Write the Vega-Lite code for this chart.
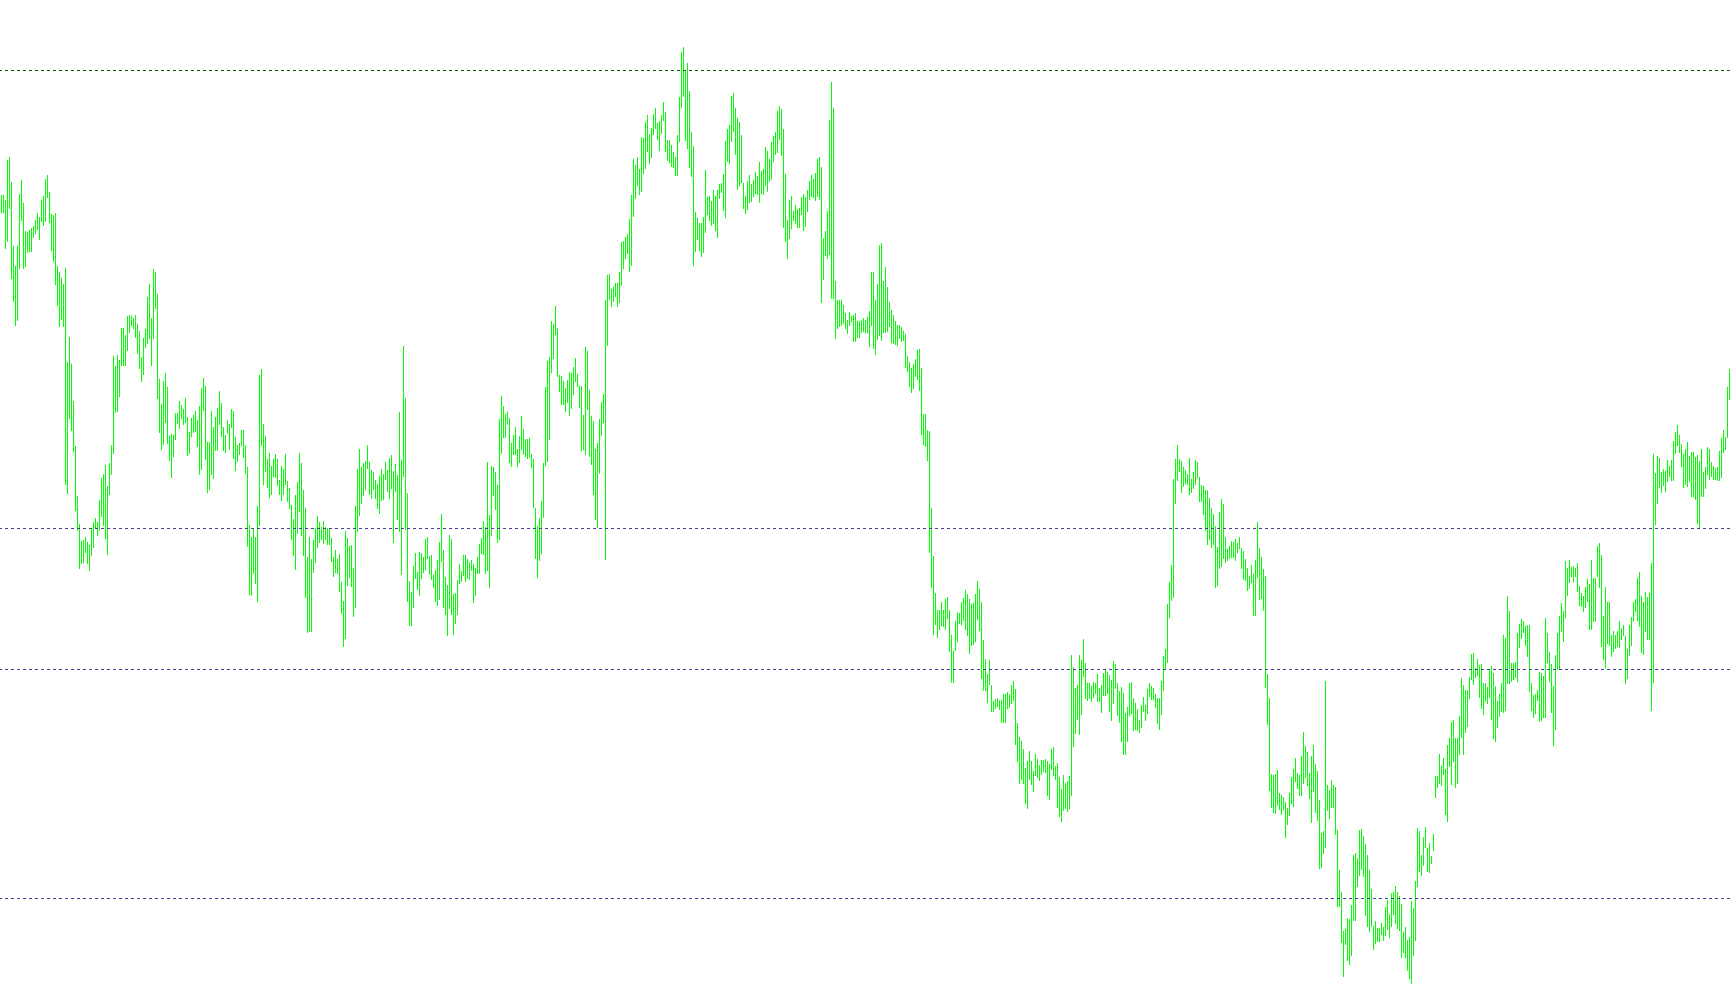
{
"$schema": "https://vega.github.io/schema/vega-lite/v6.json",
"width": 1730, "height": 1005, "padding": 0, "autosize": {"type": "none"},
"background": "white",
"config": {"view": {"stroke": null}},
"layer": [
{"data": {"values": [
{"i":0,"h":195,"l":213},{"i":1,"h":195,"l":213},{"i":2,"h":200,"l":249},{"i":3,"h":160,"l":242},{"i":4,"h":157,"l":209},{"i":5,"h":182,"l":279},{"i":6,"h":246,"l":302},{"i":7,"h":266,"l":326},{"i":8,"h":246,"l":321},{"i":9,"h":194,"l":269},
{"i":10,"h":180,"l":221},{"i":11,"h":203,"l":269},{"i":12,"h":231,"l":267},{"i":13,"h":232,"l":253},{"i":14,"h":230,"l":252},{"i":15,"h":228,"l":252},{"i":16,"h":226,"l":238},{"i":17,"h":220,"l":234},{"i":18,"h":213,"l":230},{"i":19,"h":217,"l":240},
{"i":20,"h":200,"l":222},{"i":21,"h":196,"l":226},{"i":22,"h":179,"l":222},{"i":23,"h":175,"l":198},{"i":24,"h":192,"l":223},{"i":25,"h":214,"l":251},{"i":26,"h":215,"l":262},{"i":27,"h":213,"l":285},{"i":28,"h":266,"l":306},{"i":29,"h":272,"l":327},
{"i":30,"h":278,"l":320},{"i":31,"h":284,"l":327},{"i":32,"h":268,"l":485},{"i":33,"h":362,"l":494},{"i":34,"h":337,"l":419},{"i":35,"h":364,"l":431},{"i":36,"h":401,"l":452},{"i":37,"h":446,"l":511},{"i":38,"h":496,"l":531},{"i":39,"h":524,"l":569},
{"i":40,"h":541,"l":564},{"i":41,"h":540,"l":563},{"i":42,"h":537,"l":553},{"i":43,"h":542,"l":564},{"i":44,"h":545,"l":571},{"i":45,"h":528,"l":556},{"i":46,"h":522,"l":548},{"i":47,"h":518,"l":529},{"i":48,"h":522,"l":536},{"i":49,"h":500,"l":531},
{"i":50,"h":478,"l":517},{"i":51,"h":474,"l":526},{"i":52,"h":465,"l":539},{"i":53,"h":486,"l":555},{"i":54,"h":463,"l":495},{"i":55,"h":445,"l":475},{"i":56,"h":356,"l":454},{"i":57,"h":366,"l":413},{"i":58,"h":355,"l":412},{"i":59,"h":360,"l":397},
{"i":60,"h":328,"l":366},{"i":61,"h":328,"l":366},{"i":62,"h":335,"l":366},{"i":63,"h":316,"l":351},{"i":64,"h":315,"l":333},{"i":65,"h":316,"l":326},{"i":66,"h":318,"l":329},{"i":67,"h":315,"l":338},{"i":68,"h":324,"l":354},{"i":69,"h":331,"l":369},
{"i":70,"h":357,"l":382},{"i":71,"h":338,"l":375},{"i":72,"h":329,"l":348},{"i":73,"h":297,"l":344},{"i":74,"h":284,"l":339},{"i":75,"h":318,"l":366},{"i":76,"h":269,"l":339},{"i":77,"h":272,"l":309},{"i":78,"h":294,"l":399},{"i":79,"h":379,"l":433},
{"i":80,"h":404,"l":450},{"i":81,"h":381,"l":445},{"i":82,"h":373,"l":423},{"i":83,"h":387,"l":444},{"i":84,"h":436,"l":461},{"i":85,"h":434,"l":478},{"i":86,"h":435,"l":457},{"i":87,"h":413,"l":440},{"i":88,"h":413,"l":424},{"i":89,"h":401,"l":429},
{"i":90,"h":405,"l":419},{"i":91,"h":409,"l":425},{"i":92,"h":398,"l":423},{"i":93,"h":417,"l":456},{"i":94,"h":432,"l":454},{"i":95,"h":418,"l":437},{"i":96,"h":415,"l":433},{"i":97,"h":411,"l":432},{"i":98,"h":420,"l":447},{"i":99,"h":406,"l":475},
{"i":100,"h":388,"l":470},{"i":101,"h":378,"l":411},{"i":102,"h":386,"l":460},{"i":103,"h":442,"l":493},{"i":104,"h":442,"l":490},{"i":105,"h":411,"l":475},{"i":106,"h":427,"l":479},{"i":107,"h":417,"l":451},
{"i":108,"h":408,"l":451},{"i":109,"h":391,"l":425},{"i":110,"h":403,"l":437},{"i":111,"h":427,"l":451},{"i":112,"h":435,"l":453},{"i":113,"h":420,"l":434},{"i":114,"h":424,"l":450},{"i":115,"h":409,"l":428},{"i":116,"h":411,"l":459},{"i":117,"h":437,"l":471},
{"i":118,"h":445,"l":462},{"i":119,"h":443,"l":455},{"i":120,"h":430,"l":446},{"i":121,"h":430,"l":458},{"i":122,"h":445,"l":474},{"i":123,"h":467,"l":547},{"i":124,"h":525,"l":595},{"i":125,"h":537,"l":596},{"i":126,"h":528,"l":574},{"i":127,"h":537,"l":584},
{"i":128,"h":506,"l":602},{"i":129,"h":375,"l":526},{"i":130,"h":369,"l":446},{"i":131,"h":424,"l":485},{"i":132,"h":436,"l":472},{"i":133,"h":459,"l":488},{"i":134,"h":453,"l":498},{"i":135,"h":466,"l":495},{"i":136,"h":459,"l":477},{"i":137,"h":454,"l":478},
{"i":138,"h":459,"l":486},{"i":139,"h":480,"l":495},{"i":140,"h":466,"l":501},{"i":141,"h":469,"l":495},{"i":142,"h":454,"l":485},{"i":143,"h":481,"l":502},{"i":144,"h":488,"l":509},{"i":145,"h":505,"l":540},{"i":146,"h":519,"l":556},{"i":147,"h":495,"l":570},
{"i":148,"h":482,"l":534},{"i":149,"h":453,"l":512},{"i":150,"h":463,"l":536},{"i":151,"h":490,"l":556},{"i":152,"h":508,"l":598},{"i":153,"h":557,"l":633},{"i":154,"h":537,"l":632},{"i":155,"h":559,"l":632},{"i":156,"h":540,"l":573},{"i":157,"h":528,"l":563},
{"i":158,"h":516,"l":548},{"i":159,"h":522,"l":543},{"i":160,"h":527,"l":540},{"i":161,"h":521,"l":544},{"i":162,"h":527,"l":540},{"i":163,"h":528,"l":545},{"i":164,"h":528,"l":545},{"i":165,"h":538,"l":562},{"i":166,"h":557,"l":577},{"i":167,"h":550,"l":573},
{"i":168,"h":559,"l":574},{"i":169,"h":554,"l":592},{"i":170,"h":582,"l":614},{"i":171,"h":601,"l":647},{"i":172,"h":531,"l":639},{"i":173,"h":538,"l":586},{"i":174,"h":546,"l":578},{"i":175,"h":545,"l":587},{"i":176,"h":568,"l":617},{"i":177,"h":506,"l":608},
{"i":178,"h":469,"l":532},{"i":179,"h":449,"l":516},{"i":180,"h":467,"l":504},{"i":181,"h":463,"l":496},{"i":182,"h":461,"l":490},{"i":183,"h":445,"l":469},{"i":184,"h":462,"l":495},{"i":185,"h":470,"l":499},{"i":186,"h":472,"l":490},{"i":187,"h":480,"l":499},
{"i":188,"h":484,"l":509},{"i":189,"h":476,"l":514},{"i":190,"h":469,"l":501},{"i":191,"h":474,"l":500},{"i":192,"h":462,"l":480},{"i":193,"h":470,"l":492},{"i":194,"h":458,"l":499},{"i":195,"h":455,"l":489},{"i":196,"h":471,"l":543},{"i":197,"h":464,"l":492},
{"i":198,"h":475,"l":520},{"i":199,"h":412,"l":532},{"i":200,"h":460,"l":575},{"i":201,"h":346,"l":477},{"i":202,"h":398,"l":530},{"i":203,"h":493,"l":602},{"i":204,"h":581,"l":626},{"i":205,"h":592,"l":626},{"i":206,"h":566,"l":608},{"i":207,"h":553,"l":579},
{"i":208,"h":572,"l":590},{"i":209,"h":552,"l":596},{"i":210,"h":553,"l":579},{"i":211,"h":557,"l":573},{"i":212,"h":539,"l":570},{"i":213,"h":537,"l":559},{"i":214,"h":556,"l":575},{"i":215,"h":555,"l":580},
{"i":216,"h":575,"l":588},{"i":217,"h":570,"l":602},{"i":218,"h":560,"l":606},{"i":219,"h":542,"l":600},{"i":220,"h":514,"l":562},{"i":221,"h":550,"l":608},{"i":222,"h":577,"l":615},{"i":223,"h":585,"l":636},{"i":224,"h":535,"l":609},{"i":225,"h":539,"l":615},
{"i":226,"h":594,"l":635},{"i":227,"h":593,"l":624},{"i":228,"h":580,"l":615},{"i":229,"h":564,"l":584},{"i":230,"h":571,"l":582},{"i":231,"h":555,"l":576},{"i":232,"h":555,"l":582},{"i":233,"h":559,"l":579},{"i":234,"h":562,"l":580},{"i":235,"h":560,"l":571},
{"i":236,"h":564,"l":603},{"i":237,"h":568,"l":596},{"i":238,"h":557,"l":574},{"i":239,"h":544,"l":574},{"i":240,"h":538,"l":554},{"i":241,"h":521,"l":555},{"i":242,"h":527,"l":574},{"i":243,"h":462,"l":571},{"i":244,"h":515,"l":588},{"i":245,"h":466,"l":536},
{"i":246,"h":467,"l":496},{"i":247,"h":472,"l":510},{"i":248,"h":485,"l":543},{"i":249,"h":419,"l":540},{"i":250,"h":396,"l":454},{"i":251,"h":406,"l":438},{"i":252,"h":414,"l":438},{"i":253,"h":412,"l":425},{"i":254,"h":418,"l":463},{"i":255,"h":443,"l":467},
{"i":256,"h":435,"l":455},{"i":257,"h":427,"l":455},{"i":258,"h":449,"l":467},{"i":259,"h":436,"l":463},{"i":260,"h":416,"l":450},{"i":261,"h":429,"l":455},{"i":262,"h":439,"l":457},{"i":263,"h":439,"l":459},{"i":264,"h":438,"l":458},{"i":265,"h":454,"l":468},
{"i":266,"h":459,"l":508},{"i":267,"h":508,"l":559},{"i":268,"h":526,"l":578},{"i":269,"h":518,"l":561},{"i":270,"h":501,"l":554},{"i":271,"h":463,"l":518},{"i":272,"h":387,"l":466},{"i":273,"h":361,"l":462},{"i":274,"h":357,"l":440},{"i":275,"h":321,"l":373},
{"i":276,"h":324,"l":359},{"i":277,"h":306,"l":335},{"i":278,"h":328,"l":377},{"i":279,"h":375,"l":392},{"i":280,"h":376,"l":405},{"i":281,"h":381,"l":405},{"i":282,"h":388,"l":412},{"i":283,"h":380,"l":403},{"i":284,"h":372,"l":416},{"i":285,"h":373,"l":409},
{"i":286,"h":367,"l":395},{"i":287,"h":358,"l":382},{"i":288,"h":374,"l":387},{"i":289,"h":386,"l":408},{"i":290,"h":386,"l":451},{"i":291,"h":415,"l":450},{"i":292,"h":347,"l":455},{"i":293,"h":351,"l":410},{"i":294,"h":390,"l":457},{"i":295,"h":416,"l":465},
{"i":296,"h":421,"l":495},{"i":297,"h":449,"l":520},{"i":298,"h":443,"l":528},{"i":299,"h":419,"l":474},{"i":300,"h":402,"l":436},{"i":301,"h":394,"l":423},{"i":302,"h":300,"l":560},{"i":303,"h":275,"l":346},{"i":304,"h":274,"l":300},{"i":305,"h":289,"l":307},
{"i":306,"h":287,"l":302},{"i":307,"h":283,"l":297},{"i":308,"h":283,"l":307},{"i":309,"h":272,"l":303},{"i":310,"h":242,"l":286},{"i":311,"h":241,"l":269},{"i":312,"h":237,"l":259},{"i":313,"h":234,"l":254},{"i":314,"h":219,"l":272},{"i":315,"h":195,"l":266},
{"i":316,"h":159,"l":217},{"i":317,"h":165,"l":199},{"i":318,"h":157,"l":186},{"i":319,"h":169,"l":195},{"i":320,"h":137,"l":192},{"i":321,"h":138,"l":174},{"i":322,"h":122,"l":169},{"i":323,"h":115,"l":152},
{"i":324,"h":134,"l":164},{"i":325,"h":128,"l":158},{"i":326,"h":114,"l":135},{"i":327,"h":108,"l":129},{"i":328,"h":123,"l":140},{"i":329,"h":121,"l":151},{"i":330,"h":115,"l":134},{"i":331,"h":102,"l":121},{"i":332,"h":112,"l":152},{"i":333,"h":140,"l":161},
{"i":334,"h":140,"l":163},{"i":335,"h":145,"l":167},{"i":336,"h":152,"l":168},{"i":337,"h":157,"l":176},{"i":338,"h":135,"l":176},{"i":339,"h":97,"l":142},{"i":340,"h":52,"l":108},{"i":341,"h":47,"l":97},{"i":342,"h":70,"l":141},{"i":343,"h":63,"l":149},
{"i":344,"h":91,"l":168},{"i":345,"h":132,"l":177},{"i":346,"h":146,"l":266},{"i":347,"h":212,"l":252},{"i":348,"h":218,"l":240},{"i":349,"h":223,"l":251},{"i":350,"h":223,"l":257},{"i":351,"h":217,"l":253},{"i":352,"h":170,"l":233},{"i":353,"h":197,"l":215},
{"i":354,"h":196,"l":221},{"i":355,"h":201,"l":226},{"i":356,"h":190,"l":224},{"i":357,"h":196,"l":231},{"i":358,"h":190,"l":238},{"i":359,"h":184,"l":199},{"i":360,"h":183,"l":193},{"i":361,"h":174,"l":211},{"i":362,"h":141,"l":218},{"i":363,"h":129,"l":162},
{"i":364,"h":125,"l":164},{"i":365,"h":96,"l":142},{"i":366,"h":93,"l":132},{"i":367,"h":108,"l":155},{"i":368,"h":118,"l":190},{"i":369,"h":122,"l":186},{"i":370,"h":135,"l":183},{"i":371,"h":183,"l":209},{"i":372,"h":196,"l":214},{"i":373,"h":181,"l":210},
{"i":374,"h":175,"l":203},{"i":375,"h":184,"l":202},{"i":376,"h":180,"l":197},{"i":377,"h":172,"l":194},{"i":378,"h":176,"l":195},{"i":379,"h":162,"l":203},{"i":380,"h":171,"l":194},{"i":381,"h":169,"l":195},{"i":382,"h":147,"l":186},{"i":383,"h":151,"l":192},
{"i":384,"h":159,"l":182},{"i":385,"h":142,"l":180},{"i":386,"h":136,"l":162},{"i":387,"h":132,"l":155},{"i":388,"h":111,"l":153},{"i":389,"h":106,"l":140},{"i":390,"h":109,"l":156},{"i":391,"h":129,"l":228},{"i":392,"h":174,"l":242},{"i":393,"h":220,"l":259},
{"i":394,"h":200,"l":239},{"i":395,"h":196,"l":229},{"i":396,"h":211,"l":221},{"i":397,"h":205,"l":224},{"i":398,"h":209,"l":228},{"i":399,"h":208,"l":228},{"i":400,"h":197,"l":215},{"i":401,"h":194,"l":231},{"i":402,"h":197,"l":227},{"i":403,"h":190,"l":212},
{"i":404,"h":181,"l":200},{"i":405,"h":175,"l":197},{"i":406,"h":179,"l":198},{"i":407,"h":173,"l":201},{"i":408,"h":159,"l":197},{"i":409,"h":157,"l":200},{"i":410,"h":167,"l":303},{"i":411,"h":238,"l":280},{"i":412,"h":231,"l":256},{"i":413,"h":211,"l":259},
{"i":414,"h":120,"l":255},{"i":415,"h":82,"l":299},{"i":416,"h":108,"l":299},{"i":417,"h":281,"l":339},{"i":418,"h":300,"l":329},{"i":419,"h":300,"l":327},{"i":420,"h":300,"l":326},{"i":421,"h":305,"l":324},{"i":422,"h":313,"l":329},{"i":423,"h":320,"l":334},
{"i":424,"h":312,"l":326},{"i":425,"h":316,"l":322},{"i":426,"h":315,"l":342},{"i":427,"h":313,"l":342},{"i":428,"h":321,"l":338},{"i":429,"h":321,"l":338},{"i":430,"h":320,"l":333},{"i":431,"h":318,"l":332},
{"i":432,"h":320,"l":333},{"i":433,"h":317,"l":333},{"i":434,"h":311,"l":347},{"i":435,"h":272,"l":326},{"i":436,"h":272,"l":349},{"i":437,"h":300,"l":355},{"i":438,"h":284,"l":340},{"i":439,"h":245,"l":336},{"i":440,"h":243,"l":341},{"i":441,"h":281,"l":333},
{"i":442,"h":267,"l":333},{"i":443,"h":287,"l":332},{"i":444,"h":302,"l":327},{"i":445,"h":310,"l":343},{"i":446,"h":315,"l":344},{"i":447,"h":321,"l":345},{"i":448,"h":325,"l":346},{"i":449,"h":325,"l":339},{"i":450,"h":327,"l":342},{"i":451,"h":331,"l":341},
{"i":452,"h":334,"l":368},{"i":453,"h":356,"l":372},{"i":454,"h":362,"l":387},{"i":455,"h":368,"l":393},{"i":456,"h":364,"l":389},{"i":457,"h":359,"l":377},{"i":458,"h":350,"l":380},{"i":459,"h":349,"l":391},{"i":460,"h":368,"l":435},{"i":461,"h":414,"l":445},
{"i":462,"h":414,"l":447},{"i":463,"h":430,"l":461},{"i":464,"h":431,"l":553},{"i":465,"h":508,"l":588},{"i":466,"h":556,"l":635},{"i":467,"h":593,"l":625},{"i":468,"h":610,"l":638},{"i":469,"h":610,"l":630},{"i":470,"h":602,"l":626},{"i":471,"h":610,"l":627},
{"i":472,"h":599,"l":630},{"i":473,"h":597,"l":619},{"i":474,"h":610,"l":652},{"i":475,"h":635,"l":683},{"i":476,"h":651,"l":683},{"i":477,"h":621,"l":651},{"i":478,"h":612,"l":642},{"i":479,"h":613,"l":624},{"i":480,"h":602,"l":625},{"i":481,"h":598,"l":621},
{"i":482,"h":590,"l":630},{"i":483,"h":594,"l":636},{"i":484,"h":599,"l":654},{"i":485,"h":604,"l":646},{"i":486,"h":603,"l":645},{"i":487,"h":594,"l":642},{"i":488,"h":581,"l":620},{"i":489,"h":589,"l":631},{"i":490,"h":602,"l":679},{"i":491,"h":640,"l":691},
{"i":492,"h":659,"l":691},{"i":493,"h":674,"l":703},{"i":494,"h":660,"l":685},{"i":495,"h":685,"l":712},{"i":496,"h":701,"l":712},{"i":497,"h":699,"l":709},{"i":498,"h":698,"l":707},{"i":499,"h":700,"l":710},{"i":500,"h":700,"l":723},{"i":501,"h":694,"l":723},
{"i":502,"h":694,"l":723},{"i":503,"h":692,"l":709},{"i":504,"h":694,"l":708},{"i":505,"h":685,"l":704},{"i":506,"h":681,"l":701},{"i":507,"h":689,"l":745},{"i":508,"h":723,"l":762},{"i":509,"h":737,"l":784},{"i":510,"h":741,"l":780},{"i":511,"h":749,"l":784},
{"i":512,"h":768,"l":804},{"i":513,"h":761,"l":809},{"i":514,"h":751,"l":780},{"i":515,"h":761,"l":785},{"i":516,"h":771,"l":792},{"i":517,"h":754,"l":776},{"i":518,"h":759,"l":778},{"i":519,"h":765,"l":781},{"i":520,"h":760,"l":775},{"i":521,"h":760,"l":772},
{"i":522,"h":759,"l":773},{"i":523,"h":761,"l":796},{"i":524,"h":764,"l":800},{"i":525,"h":749,"l":770},{"i":526,"h":747,"l":776},{"i":527,"h":766,"l":780},{"i":528,"h":763,"l":808},{"i":529,"h":777,"l":817},{"i":530,"h":789,"l":822},{"i":531,"h":775,"l":811},
{"i":532,"h":783,"l":809},{"i":533,"h":781,"l":812},{"i":534,"h":776,"l":809},{"i":535,"h":655,"l":796},{"i":536,"h":667,"l":747},{"i":537,"h":688,"l":734},{"i":538,"h":685,"l":720},{"i":539,"h":655,"l":735},
{"i":540,"h":660,"l":715},{"i":541,"h":639,"l":677},{"i":542,"h":663,"l":699},{"i":543,"h":683,"l":701},{"i":544,"h":683,"l":699},{"i":545,"h":686,"l":702},{"i":546,"h":682,"l":698},{"i":547,"h":683,"l":694},{"i":548,"h":674,"l":702},{"i":549,"h":688,"l":702},
{"i":550,"h":685,"l":713},{"i":551,"h":673,"l":696},{"i":552,"h":670,"l":696},{"i":553,"h":672,"l":694},{"i":554,"h":675,"l":712},{"i":555,"h":680,"l":721},{"i":556,"h":661,"l":704},{"i":557,"h":664,"l":689},{"i":558,"h":683,"l":716},{"i":559,"h":691,"l":723},
{"i":560,"h":687,"l":742},{"i":561,"h":693,"l":755},{"i":562,"h":713,"l":755},{"i":563,"h":707,"l":742},{"i":564,"h":683,"l":716},{"i":565,"h":682,"l":714},{"i":566,"h":698,"l":731},{"i":567,"h":703,"l":730},{"i":568,"h":709,"l":731},{"i":569,"h":720,"l":733},
{"i":570,"h":705,"l":728},{"i":571,"h":697,"l":712},{"i":572,"h":705,"l":721},{"i":573,"h":689,"l":714},{"i":574,"h":683,"l":697},{"i":575,"h":686,"l":700},{"i":576,"h":688,"l":700},{"i":577,"h":694,"l":708},{"i":578,"h":698,"l":724},{"i":579,"h":698,"l":730},
{"i":580,"h":681,"l":715},{"i":581,"h":656,"l":691},{"i":582,"h":649,"l":669},{"i":583,"h":604,"l":663},{"i":584,"h":582,"l":618},{"i":585,"h":565,"l":601},{"i":586,"h":479,"l":598},{"i":587,"h":459,"l":504},{"i":588,"h":445,"l":481},{"i":589,"h":459,"l":472},
{"i":590,"h":461,"l":493},{"i":591,"h":467,"l":487},{"i":592,"h":470,"l":484},{"i":593,"h":474,"l":485},{"i":594,"h":458,"l":495},{"i":595,"h":479,"l":493},{"i":596,"h":472,"l":489},{"i":597,"h":460,"l":485},{"i":598,"h":462,"l":478},{"i":599,"h":477,"l":502},
{"i":600,"h":485,"l":502},{"i":601,"h":486,"l":515},{"i":602,"h":490,"l":531},{"i":603,"h":490,"l":545},{"i":604,"h":498,"l":540},{"i":605,"h":508,"l":548},{"i":606,"h":514,"l":545},{"i":607,"h":526,"l":588},{"i":608,"h":547,"l":586},{"i":609,"h":512,"l":569},
{"i":610,"h":499,"l":567},{"i":611,"h":504,"l":559},{"i":612,"h":537,"l":563},{"i":613,"h":549,"l":561},{"i":614,"h":546,"l":559},{"i":615,"h":541,"l":558},{"i":616,"h":542,"l":558},{"i":617,"h":539,"l":561},{"i":618,"h":543,"l":553},{"i":619,"h":537,"l":549},
{"i":620,"h":548,"l":569},{"i":621,"h":551,"l":580},{"i":622,"h":559,"l":581},{"i":623,"h":568,"l":591},{"i":624,"h":576,"l":589},{"i":625,"h":565,"l":583},{"i":626,"h":574,"l":616},{"i":627,"h":560,"l":616},{"i":628,"h":522,"l":578},{"i":629,"h":548,"l":600},
{"i":630,"h":557,"l":599},{"i":631,"h":569,"l":611},{"i":632,"h":576,"l":688},{"i":633,"h":674,"l":725},{"i":634,"h":698,"l":791},{"i":635,"h":774,"l":808},{"i":636,"h":775,"l":813},{"i":637,"h":774,"l":814},{"i":638,"h":770,"l":806},{"i":639,"h":793,"l":810},
{"i":640,"h":795,"l":815},{"i":641,"h":797,"l":810},{"i":642,"h":802,"l":838},{"i":643,"h":808,"l":825},{"i":644,"h":793,"l":816},{"i":645,"h":777,"l":804},{"i":646,"h":769,"l":807},{"i":647,"h":758,"l":782},
{"i":648,"h":773,"l":789},{"i":649,"h":775,"l":796},{"i":650,"h":756,"l":796},{"i":651,"h":732,"l":784},{"i":652,"h":746,"l":778},{"i":653,"h":752,"l":786},{"i":654,"h":773,"l":799},{"i":655,"h":756,"l":823},{"i":656,"h":745,"l":792},{"i":657,"h":764,"l":813},
{"i":658,"h":771,"l":821},{"i":659,"h":800,"l":869},{"i":660,"h":833,"l":868},{"i":661,"h":831,"l":854},{"i":662,"h":681,"l":848},{"i":663,"h":785,"l":811},{"i":664,"h":790,"l":819},{"i":665,"h":780,"l":808},{"i":666,"h":785,"l":808},{"i":667,"h":787,"l":835},
{"i":668,"h":830,"l":907},{"i":669,"h":870,"l":907},{"i":670,"h":892,"l":943},{"i":671,"h":931,"l":977},{"i":672,"h":929,"l":945},{"i":673,"h":918,"l":961},{"i":674,"h":919,"l":965},{"i":675,"h":905,"l":956},{"i":676,"h":855,"l":921},{"i":677,"h":853,"l":921},
{"i":678,"h":858,"l":887},{"i":679,"h":830,"l":876},{"i":680,"h":829,"l":870},{"i":681,"h":836,"l":877},{"i":682,"h":844,"l":916},{"i":683,"h":855,"l":927},{"i":684,"h":870,"l":932},{"i":685,"h":889,"l":927},{"i":686,"h":926,"l":950},{"i":687,"h":921,"l":944},
{"i":688,"h":928,"l":942},{"i":689,"h":928,"l":942},{"i":690,"h":923,"l":935},{"i":691,"h":927,"l":941},{"i":692,"h":907,"l":936},{"i":693,"h":900,"l":930},{"i":694,"h":914,"l":938},{"i":695,"h":893,"l":927},{"i":696,"h":892,"l":915},{"i":697,"h":886,"l":924},
{"i":698,"h":892,"l":929},{"i":699,"h":896,"l":931},{"i":700,"h":904,"l":958},{"i":701,"h":932,"l":953},{"i":702,"h":927,"l":958},{"i":703,"h":940,"l":971},{"i":704,"h":937,"l":979},{"i":705,"h":901,"l":984},{"i":706,"h":908,"l":956},{"i":707,"h":881,"l":941},
{"i":708,"h":828,"l":887},{"i":709,"h":831,"l":872},{"i":710,"h":855,"l":876},{"i":711,"h":837,"l":866},{"i":712,"h":827,"l":848},{"i":713,"h":848,"l":872},{"i":714,"h":843,"l":873},{"i":715,"h":856,"l":864},{"i":716,"h":834,"l":851},{"i":717,"h":776,"l":798},
{"i":718,"h":776,"l":788},{"i":719,"h":754,"l":784},{"i":720,"h":766,"l":786},{"i":721,"h":758,"l":775},{"i":722,"h":769,"l":815},{"i":723,"h":745,"l":822},{"i":724,"h":738,"l":767},{"i":725,"h":722,"l":785},{"i":726,"h":720,"l":762},{"i":727,"h":738,"l":788},
{"i":728,"h":738,"l":784},{"i":729,"h":716,"l":755},{"i":730,"h":678,"l":738},{"i":731,"h":685,"l":755},{"i":732,"h":690,"l":733},{"i":733,"h":690,"l":727},{"i":734,"h":677,"l":699},{"i":735,"h":654,"l":680},{"i":736,"h":653,"l":685},{"i":737,"h":668,"l":678},
{"i":738,"h":659,"l":676},{"i":739,"h":665,"l":698},{"i":740,"h":664,"l":709},{"i":741,"h":683,"l":715},{"i":742,"h":683,"l":702},{"i":743,"h":687,"l":704},{"i":744,"h":669,"l":698},{"i":745,"h":666,"l":720},{"i":746,"h":673,"l":739},{"i":747,"h":686,"l":742},
{"i":748,"h":701,"l":728},{"i":749,"h":694,"l":717},{"i":750,"h":683,"l":712},{"i":751,"h":635,"l":713},{"i":752,"h":638,"l":711},{"i":753,"h":596,"l":684},{"i":754,"h":611,"l":684},{"i":755,"h":663,"l":682},{"i":756,"h":663,"l":680},
{"i":757,"h":662,"l":678},{"i":758,"h":633,"l":682},{"i":759,"h":624,"l":648},{"i":760,"h":619,"l":639},{"i":761,"h":621,"l":633},{"i":762,"h":626,"l":646},{"i":763,"h":625,"l":657},{"i":764,"h":625,"l":692},{"i":765,"h":683,"l":711},{"i":766,"h":695,"l":718},
{"i":767,"h":694,"l":714},{"i":768,"h":690,"l":701},{"i":769,"h":672,"l":722},{"i":770,"h":673,"l":721},{"i":771,"h":676,"l":718},{"i":772,"h":618,"l":718},{"i":773,"h":633,"l":663},{"i":774,"h":652,"l":682},{"i":775,"h":664,"l":713},{"i":776,"h":686,"l":746},
{"i":777,"h":655,"l":730},{"i":778,"h":633,"l":670},{"i":779,"h":616,"l":669},{"i":780,"h":603,"l":632},{"i":781,"h":611,"l":642},{"i":782,"h":561,"l":618},{"i":783,"h":568,"l":596},{"i":784,"h":560,"l":583},{"i":785,"h":567,"l":577},{"i":786,"h":566,"l":582},
{"i":787,"h":568,"l":577},{"i":788,"h":563,"l":592},{"i":789,"h":586,"l":606},{"i":790,"h":593,"l":607},{"i":791,"h":596,"l":612},{"i":792,"h":587,"l":608},{"i":793,"h":579,"l":602},{"i":794,"h":584,"l":630},{"i":795,"h":560,"l":630},{"i":796,"h":578,"l":622},
{"i":797,"h":578,"l":622},{"i":798,"h":546,"l":577},{"i":799,"h":543,"l":588},{"i":800,"h":555,"l":647},{"i":801,"h":616,"l":660},{"i":802,"h":587,"l":669},{"i":803,"h":602,"l":644},{"i":804,"h":602,"l":646},{"i":805,"h":635,"l":657},{"i":806,"h":631,"l":652},
{"i":807,"h":635,"l":649},{"i":808,"h":631,"l":647},{"i":809,"h":621,"l":648},{"i":810,"h":628,"l":640},{"i":811,"h":625,"l":636},{"i":812,"h":636,"l":684},{"i":813,"h":649,"l":679},{"i":814,"h":625,"l":656},{"i":815,"h":617,"l":646},{"i":816,"h":602,"l":622},
{"i":817,"h":599,"l":612},{"i":818,"h":578,"l":621},{"i":819,"h":572,"l":627},{"i":820,"h":596,"l":653},{"i":821,"h":602,"l":655},{"i":822,"h":592,"l":632},{"i":823,"h":597,"l":640},{"i":824,"h":593,"l":640},{"i":825,"h":563,"l":711},{"i":826,"h":454,"l":683},
{"i":827,"h":473,"l":525},{"i":828,"h":456,"l":504},{"i":829,"h":458,"l":488},{"i":830,"h":472,"l":493},{"i":831,"h":469,"l":486},{"i":832,"h":471,"l":492},{"i":833,"h":460,"l":482},{"i":834,"h":466,"l":477},{"i":835,"h":460,"l":481},{"i":836,"h":441,"l":481},
{"i":837,"h":432,"l":454},{"i":838,"h":425,"l":446},{"i":839,"h":435,"l":453},{"i":840,"h":444,"l":467},{"i":841,"h":454,"l":488},{"i":842,"h":449,"l":485},{"i":843,"h":442,"l":487},{"i":844,"h":456,"l":482},{"i":845,"h":452,"l":497},{"i":846,"h":452,"l":497},
{"i":847,"h":457,"l":500},{"i":848,"h":455,"l":524},{"i":849,"h":461,"l":529},{"i":850,"h":449,"l":497},{"i":851,"h":472,"l":497},{"i":852,"h":467,"l":489},{"i":853,"h":447,"l":475},{"i":854,"h":449,"l":480},{"i":855,"h":462,"l":477},{"i":856,"h":466,"l":480},
{"i":857,"h":468,"l":480},{"i":858,"h":467,"l":481},{"i":859,"h":451,"l":481},{"i":860,"h":438,"l":478},{"i":861,"h":430,"l":453},{"i":862,"h":437,"l":450},{"i":863,"h":387,"l":438},{"i":864,"h":369,"l":400}
]},
"mark": {"type": "rule", "color": "#00FF00", "strokeWidth": 1},
"encoding": {
"x": {"field": "i", "type": "quantitative", "scale": {"domain": [-0.75, 864.25], "nice": false, "zero": false}, "axis": null},
"y": {"field": "h", "type": "quantitative", "scale": {"domain": [0, 1005], "reverse": true, "nice": false, "zero": false}, "axis": null},
"y2": {"field": "l"}
}},
{"data": {"values": [
{"level": 70.5, "kind": "resistance"},
{"level": 528.5, "kind": "support"},
{"level": 669.5, "kind": "support"},
{"level": 898.5, "kind": "support"}
]},
"mark": {"type": "rule", "strokeWidth": 1, "strokeDash": [3, 3]},
"encoding": {
"y": {"field": "level", "type": "quantitative"},
"color": {"field": "kind", "type": "nominal", "scale": {"domain": ["resistance", "support"], "range": ["#006400", "#483D8B"]}, "legend": null}
}}
]
}
